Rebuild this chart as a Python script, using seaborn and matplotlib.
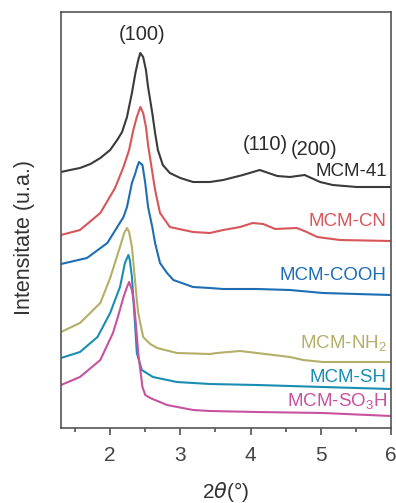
import numpy as np
import pandas as pd
import seaborn as sns
import matplotlib
matplotlib.use("Agg")
import matplotlib.pyplot as plt

# XRD patterns (2theta in degrees, intensity in arbitrary offset units)
x_mcm41 = [1.30, 1.43, 1.57, 1.72, 1.86, 2.00, 2.10, 2.17, 2.24, 2.26, 2.31, 2.36, 2.40,
           2.43, 2.47, 2.51, 2.54, 2.60, 2.64, 2.68, 2.75, 2.85, 3.00, 3.18, 3.42, 3.61,
           3.89, 4.13, 4.38, 4.56, 4.77, 4.99, 5.17, 5.51, 6.00]
y_mcm41 = [256, 258, 260, 264, 270, 278, 288, 296, 311, 318, 335, 355, 368,
           375, 371, 358, 341, 315, 295, 278, 263, 255, 250, 246, 246, 248,
           253, 258, 252, 251, 253, 246, 243, 241, 241]

x_cn = [1.30, 1.57, 1.86, 2.07, 2.19, 2.27, 2.33, 2.38, 2.43, 2.47, 2.51, 2.54, 2.64,
        2.71, 2.85, 3.18, 3.42, 3.61, 3.85, 4.03, 4.18, 4.35, 4.66, 4.80, 4.95, 5.27, 6.00]
y_cn = [193, 198, 215, 240, 261, 278, 298, 311, 321, 315, 301, 283, 238,
        215, 201, 196, 195, 198, 201, 205, 204, 199, 200, 196, 191, 188, 187]

x_cooh = [1.30, 1.67, 1.96, 2.19, 2.24, 2.31, 2.36, 2.38, 2.41, 2.46, 2.50, 2.54, 2.60,
          2.64, 2.71, 2.81, 2.90, 3.18, 3.42, 3.61, 4.09, 4.56, 5.03, 5.51, 6.00]
y_cooh = [164, 170, 185, 211, 221, 245, 255, 260, 266, 263, 245, 221, 201,
          185, 165, 155, 148, 141, 140, 139, 139, 138, 135, 134, 133]

x_nh2 = [1.30, 1.57, 1.86, 2.00, 2.14, 2.20, 2.24, 2.27, 2.31, 2.38, 2.40, 2.47, 2.57,
         2.67, 2.95, 3.42, 3.52, 3.85, 4.09, 4.56, 4.75, 5.03, 6.00]
y_nh2 = [96, 105, 125, 150, 181, 195, 200, 196, 181, 128, 115, 91, 84,
         80, 75, 74, 75, 77, 75, 71, 68, 66, 66]

x_sh = [1.30, 1.57, 1.82, 2.00, 2.14, 2.17, 2.21, 2.26, 2.28, 2.31, 2.36, 2.38, 2.45,
        2.61, 2.95, 3.42, 4.09, 5.03, 6.00]
y_sh = [70, 76, 91, 115, 141, 151, 165, 173, 168, 151, 98, 75, 58,
        51, 46, 44, 43, 41, 39]

x_so3h = [1.30, 1.57, 1.86, 2.04, 2.11, 2.19, 2.24, 2.27, 2.31, 2.34, 2.37, 2.40, 2.46,
          2.50, 2.57, 2.81, 3.18, 3.42, 4.09, 5.03, 6.00]
y_so3h = [43, 51, 68, 95, 111, 131, 141, 146, 138, 125, 101, 75, 41,
          33, 30, 23, 18, 17, 16, 15, 12]

names = ["MCM-41", "MCM-CN", "MCM-COOH", "MCM-NH2", "MCM-SH", "MCM-SO3H"]
labels = ["MCM-41", "MCM-CN", "MCM-COOH", "MCM-NH$_2$", "MCM-SH", "MCM-SO$_3$H"]
colors = ["#3a3a3a", "#d8555a", "#1f6db3", "#b3ae68", "#1a8db3", "#c8529f"]
label_y = [252, 202, 148, 80, 46, 22]

xs = [x_mcm41, x_cn, x_cooh, x_nh2, x_sh, x_so3h]
ys = [y_mcm41, y_cn, y_cooh, y_nh2, y_sh, y_so3h]

df = pd.concat([pd.DataFrame({"two_theta": x, "intensity": y, "sample": n})
                for x, y, n in zip(xs, ys, names)], ignore_index=True)

sns.set_style("ticks")
plt.rcParams['font.family'] = ['Liberation Sans', 'DejaVu Sans']
plt.rcParams['mathtext.default'] = 'regular'

fig = plt.figure(figsize=(3.96, 5.03), dpi=100)
ax = fig.add_axes([61/396, 75/503, 330/396, 416/503])

sns.lineplot(data=df, x="two_theta", y="intensity", hue="sample", hue_order=names,
             palette=colors, linewidth=1.5, legend=False, sort=False,
             estimator=None, ax=ax)

for lab, c, yy in zip(labels, colors, label_y):
    tc = "#2b2b2b" if lab == "MCM-41" else c
    ax.text(5.94, yy, lab, color=tc, fontsize=13.5, ha="right", va="baseline")

# peak indices
ax.text(2.455, 388, "(100)", fontsize=14.5, color="#2b2b2b", ha="center", va="baseline")
ax.text(4.205, 278, "(110)", fontsize=14.5, color="#2b2b2b", ha="center", va="baseline")
ax.text(4.902, 273, "(200)", fontsize=14.5, color="#2b2b2b", ha="center", va="baseline")

ax.set_xlim(1.3, 6.0)
ax.set_ylim(0, 416)
ax.set_xticks([2, 3, 4, 5, 6])
ax.set_xticks([1.5, 2.5, 3.5, 4.5, 5.5], minor=True)
ax.set_yticks([])
ax.tick_params(axis="x", which="major", length=5, width=1.1, labelsize=15,
               colors="#444444", pad=8)
ax.tick_params(axis="x", which="minor", length=3, width=1.1, colors="#444444")
for s in ax.spines.values():
    s.set_color("#555555")
    s.set_linewidth(1.2)
    s.set_visible(True)

ax.set_xlabel(r"2$\mathit{\theta}$(°)", fontsize=15, color="#333333", labelpad=11)
ax.set_ylabel("Intensitate (u.a.)", fontsize=15.5, color="#333333")
ax.yaxis.set_label_coords(-0.08, 0.457)

fig.savefig("out.png", dpi=100)
